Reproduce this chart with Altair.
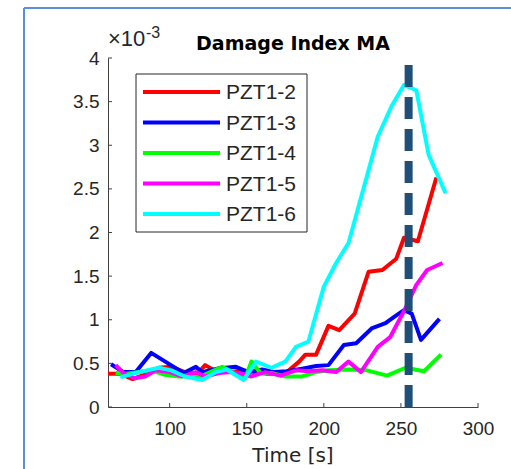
import altair as alt
import pandas as pd

# ---------------- data ----------------
series_names = ["PZT1-2", "PZT1-3", "PZT1-4", "PZT1-5", "PZT1-6"]
series_colors = ["#ff0000", "#0000ff", "#00ff00", "#ff00ff", "#00ffff"]

red_t = [60, 68, 76, 85, 93, 101, 110, 118, 123, 131, 140, 148, 155, 163, 171, 176, 184, 188, 195, 203, 210, 220, 229, 238, 247, 252, 261, 273]
red_v = [0.38, 0.38, 0.32, 0.38, 0.45, 0.46, 0.40, 0.38, 0.48, 0.40, 0.40, 0.42, 0.40, 0.38, 0.38, 0.40, 0.52, 0.60, 0.60, 0.93, 0.88, 1.07, 1.55, 1.57, 1.70, 1.94, 1.90, 2.63]

blue_t = [62, 70, 78, 88, 99, 109, 117, 121, 131, 143, 151, 160, 168, 176, 186, 195, 203, 213, 221, 231, 240, 247, 252, 257, 263, 275]
blue_v = [0.49, 0.40, 0.40, 0.62, 0.50, 0.39, 0.46, 0.40, 0.44, 0.46, 0.40, 0.43, 0.40, 0.41, 0.44, 0.47, 0.48, 0.71, 0.73, 0.90, 0.96, 1.05, 1.11, 1.07, 0.77, 1.01]

green_t = [65, 72, 80, 88, 97, 106, 112, 119, 125, 134, 141, 149, 153, 159, 166, 175, 186, 195, 203, 216, 228, 241, 253, 265, 276]
green_v = [0.39, 0.38, 0.40, 0.42, 0.37, 0.35, 0.35, 0.34, 0.39, 0.46, 0.40, 0.33, 0.52, 0.39, 0.39, 0.35, 0.35, 0.40, 0.42, 0.43, 0.42, 0.36, 0.45, 0.41, 0.60]

magenta_t = [65, 70, 77, 84, 91, 100, 108, 117, 123, 132, 140, 147, 153, 162, 172, 182, 190, 199, 208, 216, 224, 235, 243, 252, 260, 267, 277]
magenta_v = [0.48, 0.39, 0.33, 0.35, 0.42, 0.40, 0.35, 0.40, 0.35, 0.39, 0.40, 0.38, 0.35, 0.40, 0.36, 0.42, 0.41, 0.42, 0.40, 0.52, 0.40, 0.69, 0.80, 1.10, 1.40, 1.57, 1.65]

cyan_t = [68, 80, 93, 101, 110, 121, 130, 137, 148, 156, 166, 175, 182, 190, 200, 208, 216, 226, 235, 244, 252, 260, 268, 279]
cyan_v = [0.34, 0.40, 0.45, 0.42, 0.35, 0.31, 0.40, 0.43, 0.31, 0.52, 0.45, 0.52, 0.69, 0.75, 1.38, 1.65, 1.88, 2.52, 3.10, 3.45, 3.69, 3.63, 2.89, 2.45]

vline_time = [255]
vline_bottom = [0]
vline_top = [3.92]

x_ticks = [100, 150, 200, 250, 300]
y_ticks = [0, 0.5, 1, 1.5, 2, 2.5, 3, 3.5, 4]

title_text = "Damage Index MA"
x_title = "Time [s]"
exp_base = "\u00d710"
exp_power = "-3"

# ---------------- layout ----------------
W, H = 370, 349
TXT = "#262626"
AX = "#404040"
FONT = "Liberation Sans"

xs = alt.Scale(domain=[60, 300], nice=False)
ys = alt.Scale(domain=[0, 4], nice=False)
one = pd.DataFrame({"k": [0]})

series_t = [red_t, blue_t, green_t, magenta_t, cyan_t]
series_v = [red_v, blue_v, green_v, magenta_v, cyan_v]

layers = []

# axes (x and y) via an invisible base layer
base = alt.Chart(pd.DataFrame({"t": [60], "v": [0]})).mark_point(opacity=0).encode(
    x=alt.X("t:Q", scale=xs, title=None,
            axis=alt.Axis(values=x_ticks, labelPadding=12, labelFlush=False)),
    y=alt.Y("v:Q", scale=ys, title=None,
            axis=alt.Axis(values=y_ticks, format="~g", labelPadding=9, labelFlush=False)),
)
layers.append(base)

# series lines
for name, col, tt, vv in zip(series_names, series_colors, series_t, series_v):
    df = pd.DataFrame({"t": tt, "v": vv, "series": name})
    layers.append(
        alt.Chart(df).mark_line(color=col, strokeWidth=4, strokeJoin="round", clip=True).encode(
            x=alt.X("t:Q", scale=xs), y=alt.Y("v:Q", scale=ys), order="t:Q"
        )
    )

# dashed vertical line
vdf = pd.DataFrame({"t": vline_time, "y0": vline_bottom, "y1": vline_top})
layers.append(
    alt.Chart(vdf).mark_rule(color="#1f4e79", strokeWidth=8, strokeDash=[22, 10]).encode(
        x=alt.X("t:Q", scale=xs), y=alt.Y("y0:Q", scale=ys), y2="y1:Q"
    )
)

# inward tick marks
layers.append(
    alt.Chart(pd.DataFrame({"t": x_ticks})).mark_rule(color=AX, strokeWidth=1).encode(
        x=alt.X("t:Q", scale=xs), y=alt.value(H), y2=alt.value(H - 4)
    )
)
layers.append(
    alt.Chart(pd.DataFrame({"v": y_ticks})).mark_rule(color=AX, strokeWidth=1).encode(
        y=alt.Y("v:Q", scale=ys), x=alt.value(0), x2=alt.value(4)
    )
)

# legend box
layers.append(
    alt.Chart(one).mark_rect(fill="white", stroke=TXT, strokeWidth=1).encode(
        x=alt.value(28), x2=alt.value(199), y=alt.value(16), y2=alt.value(174)
    )
)
for i, (name, col) in enumerate(zip(series_names, series_colors)):
    yy = 34 + 30.5 * i
    layers.append(
        alt.Chart(one).mark_rule(color=col, strokeWidth=4).encode(
            x=alt.value(35), x2=alt.value(112), y=alt.value(yy)
        )
    )
    layers.append(
        alt.Chart(one).mark_text(align="left", baseline="middle", font=FONT, fontSize=21,
                                 color=TXT, text=name).encode(
            x=alt.value(118), y=alt.value(yy + 1)
        )
    )

# title and exponent
layers.append(
    alt.Chart(one).mark_text(align="center", baseline="alphabetic", font="DejaVu Sans",
                             fontWeight="bold", fontSize=19, color="black", text=title_text).encode(
        x=alt.value(W / 2), y=alt.value(-8)
    )
)
layers.append(
    alt.Chart(one).mark_text(align="left", baseline="alphabetic", font=FONT, fontSize=22,
                             color=TXT, text=exp_base).encode(
        x=alt.value(0), y=alt.value(-12)
    )
)
layers.append(
    alt.Chart(one).mark_text(align="left", baseline="alphabetic", font=FONT, fontSize=16,
                             color=TXT, text=exp_power).encode(
        x=alt.value(38), y=alt.value(-20)
    )
)
# x axis title
layers.append(
    alt.Chart(one).mark_text(align="center", baseline="alphabetic", font="DejaVu Sans", fontSize=20,
                             color=TXT, text=x_title).encode(
        x=alt.value(W / 2), y=alt.value(404)
    )
)

# outer blue frame (screenshot border)
layers.append(
    alt.Chart(one).mark_rule(color="#5b8fd6", strokeWidth=2).encode(
        x=alt.value(-84), y=alt.value(-50), y2=alt.value(H + 62)
    )
)
layers.append(
    alt.Chart(one).mark_rule(color="#5b8fd6", strokeWidth=2).encode(
        x=alt.value(-84), x2=alt.value(W + 33), y=alt.value(-50)
    )
)

chart = alt.layer(*layers).properties(
    width=W, height=H,
    autosize=alt.AutoSizeParams(type="none"),
    padding={"left": 108, "top": 58, "right": 33, "bottom": 62},
    background="white",
).configure_view(stroke=None).configure_axis(
    grid=False, ticks=False, tickSize=0, domainColor=AX, domainWidth=1,
    labelFont=FONT, labelFontSize=19, labelColor=TXT,
)

chart.save("out.html", embed_options={"renderer": "svg", "actions": False})
